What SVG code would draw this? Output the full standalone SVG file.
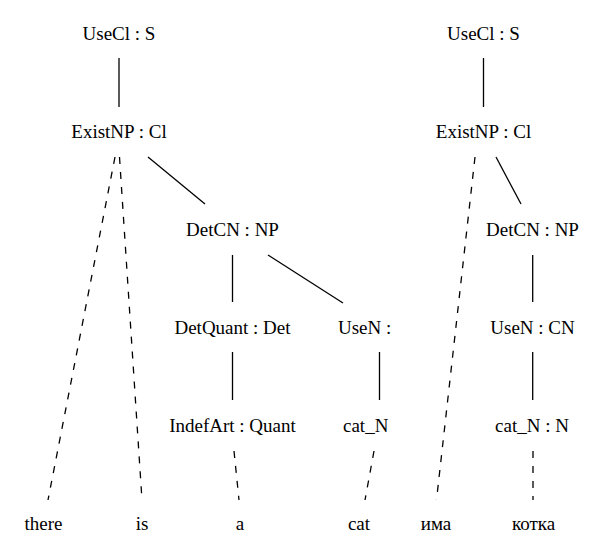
<svg xmlns="http://www.w3.org/2000/svg" width="597" height="556" viewBox="0 0 597 556">
<style>
.e{stroke:#000;stroke-width:1.3;fill:none}
.d{stroke-dasharray:7,8}
</style>
<rect width="597" height="556" fill="#fff"/>
<g id="edges">
<line class="e" x1="119" y1="58" x2="119" y2="107"/>
<line class="e" x1="148" y1="157" x2="205" y2="204"/>
<line class="e d" x1="115" y1="157" x2="48" y2="500"/>
<line class="e d" x1="119.5" y1="157" x2="142" y2="500"/>
<line class="e" x1="232.5" y1="255" x2="232.5" y2="302"/>
<line class="e" x1="268" y1="255" x2="343" y2="303"/>
<line class="e" x1="232.5" y1="352" x2="232.5" y2="400"/>
<line class="e" x1="379.5" y1="352" x2="379.5" y2="400"/>
<line class="e d" x1="234" y1="451" x2="239" y2="500"/>
<line class="e d" x1="374" y1="451" x2="365" y2="500"/>
<line class="e" x1="483.5" y1="58" x2="483.5" y2="107"/>
<line class="e" x1="496" y1="157" x2="521" y2="204"/>
<line class="e d" x1="475" y1="157" x2="436.5" y2="500"/>
<line class="e" x1="532.7" y1="255" x2="532.7" y2="302"/>
<line class="e" x1="532.7" y1="352" x2="532.7" y2="400"/>
<line class="e d" x1="533" y1="451" x2="533" y2="500"/>
</g>
<g font-family="'Liberation Serif', 'Times New Roman', 'DejaVu Serif', serif" font-size="19" fill="#000" text-anchor="middle">
<g id="n1"><text x="119" y="40">UseCl : S</text></g>
<g id="n2"><text x="119" y="138">ExistNP : Cl</text></g>
<g id="n3"><text x="232.5" y="236">DetCN : NP</text></g>
<g id="n4"><text x="232.5" y="334">DetQuant : Det</text></g>
<g id="n5"><text x="338" y="334" text-anchor="start">UseN :</text></g>
<g id="n6"><text x="232.5" y="432">IndefArt : Quant</text></g>
<g id="n7"><text x="343" y="432" text-anchor="start">cat_N</text></g>
<g id="l1"><text x="43.5" y="530">there</text></g>
<g id="l2"><text x="142" y="530">is</text></g>
<g id="l3"><text x="240" y="530">a</text></g>
<g id="l4"><text x="359" y="530">cat</text></g>
<g id="m1"><text x="483.5" y="40">UseCl : S</text></g>
<g id="m2"><text x="483.5" y="138">ExistNP : Cl</text></g>
<g id="m3"><text x="532.5" y="236">DetCN : NP</text></g>
<g id="m4"><text x="532.5" y="334">UseN : CN</text></g>
<g id="m5"><text x="532" y="432">cat_N : N</text></g>
<g id="k1"><text x="436" y="530">има</text></g>
<g id="k2"><text x="533.5" y="530">котка</text></g>
</g>
</svg>
